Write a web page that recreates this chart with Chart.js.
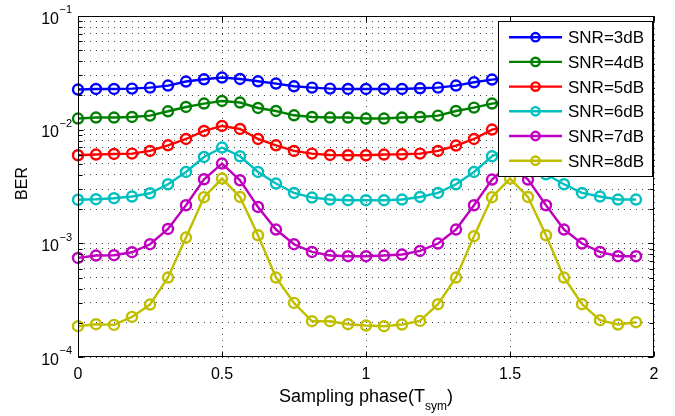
<!DOCTYPE html>
<html>
<head>
<meta charset="utf-8">
<script src="https://cdn.jsdelivr.net/npm/chart.js@4.4.1/dist/chart.umd.min.js"></script>
<style>
html, body { margin: 0; padding: 0; background: #fff; }
#wrap { width: 675px; height: 416px; position: relative; }
</style>
</head>
<body>
<div id="wrap"><canvas id="berChart"></canvas></div>
<script>
// sampling phase, in symbol periods
const phase = [0, 0.0625, 0.125, 0.1875, 0.25, 0.3125, 0.375, 0.4375,
               0.5, 0.5625, 0.625, 0.6875, 0.75, 0.8125, 0.875, 0.9375,
               1, 1.0625, 1.125, 1.1875, 1.25, 1.3125, 1.375, 1.4375,
               1.5, 1.5625, 1.625, 1.6875, 1.75, 1.8125, 1.875, 1.9375];

const ber3dB = [0.02254, 0.0228, 0.0228, 0.02298, 0.02345, 0.02443, 0.0265, 0.02776,
                0.02873, 0.02793, 0.02665, 0.02544, 0.02408, 0.02345, 0.02298, 0.0228,
                0.0228, 0.0228, 0.0228, 0.02312, 0.02345, 0.02443, 0.02611, 0.02759,
                0.02873, 0.02793, 0.02665, 0.02544, 0.02408, 0.02345, 0.02298, 0.0228];
const ber4dB = [0.01252, 0.01278, 0.01278, 0.01294, 0.0133, 0.01451, 0.01584, 0.01697,
                0.01789, 0.01732, 0.01552, 0.0146, 0.01338, 0.01294, 0.01278, 0.01278,
                0.01252, 0.01252, 0.01278, 0.01294, 0.0133, 0.0146, 0.01564, 0.01697,
                0.01789, 0.01732, 0.01552, 0.0146, 0.01338, 0.01294, 0.01278, 0.01278];
const ber5dB = [0.005955, 0.00604, 0.00611, 0.00616, 0.0065, 0.00729, 0.00828, 0.00974,
                0.01078, 0.01014, 0.00828, 0.00729, 0.0065, 0.00616, 0.00599, 0.005955,
                0.005955, 0.00604, 0.00607, 0.00616, 0.0065, 0.00725, 0.00828, 0.01002,
                0.01078, 0.01014, 0.00828, 0.00729, 0.0065, 0.00616, 0.00599, 0.005955];
const ber6dB = [0.002418, 0.002443, 0.002493, 0.00258, 0.002758, 0.00331, 0.004246, 0.005752,
                0.006961, 0.005834, 0.004246, 0.003357, 0.002775, 0.002528, 0.002428, 0.002394,
                0.002394, 0.002394, 0.002428, 0.002559, 0.002775, 0.00331, 0.004246, 0.005834,
                0.006961, 0.005834, 0.004053, 0.00331, 0.002775, 0.00258, 0.002428, 0.002428];
const ber7dB = [0.000744, 0.000781, 0.000786, 0.000835, 0.000982, 0.001338, 0.002163, 0.003663,
                0.005033, 0.003589, 0.00209, 0.001322, 0.000982, 0.00084, 0.000781, 0.00077,
                0.00077, 0.000781, 0.000797, 0.000857, 0.000996, 0.001322, 0.002163, 0.003639,
                0.005033, 0.003639, 0.002163, 0.001322, 0.000996, 0.00084, 0.00077, 0.00077];
const ber8dB = [0.0001866, 0.0001943, 0.0001916, 0.0002253, 0.0002894, 0.0005003, 0.001125, 0.002544,
                0.003715, 0.002559, 0.001178, 0.0005003, 0.0002991, 0.0002064, 0.0002064, 0.0001943,
                0.0001892, 0.0001866, 0.0001931, 0.0002077, 0.0002913, 0.0005003, 0.001155, 0.002544,
                0.003715, 0.002559, 0.001178, 0.0005003, 0.0002913, 0.0002107, 0.0001931, 0.0002023];

const seriesNames = ['SNR=3dB', 'SNR=4dB', 'SNR=5dB', 'SNR=6dB', 'SNR=7dB', 'SNR=8dB'];
const seriesData = [ber3dB, ber4dB, ber5dB, ber6dB, ber7dB, ber8dB];
const seriesColors = ['#0000ff', '#008000', '#ff0000', '#00bfbf', '#bf00bf', '#bfbf00'];

const xTicks = [0, 0.5, 1, 1.5, 2];
const xTickLabels = ['0', '0.5', '1', '1.5', '2'];
const yDecades = [-4, -3, -2, -1];

const FONT = "'Liberation Sans', Arial, Helvetica, sans-serif";

function isDecade(v) {
    const l = Math.log10(v);
    return Math.abs(l - Math.round(l)) < 1e-9;
}

// box, inward ticks, tick labels, axis titles and the legend, drawn old-school plot style
const plotFrame = {
    id: 'plotFrame',
    afterDatasetsDraw(chart) {
        const { ctx, chartArea: a, scales: { x, y } } = chart;
        const L = Math.round(a.left) + 0.5, R = Math.round(a.right) - 0.5;
        const T = Math.round(a.top) + 0.5, B = Math.round(a.bottom) - 0.5;
        ctx.save();

        // frame
        ctx.strokeStyle = '#000';
        ctx.lineWidth = 1;
        ctx.strokeRect(L, T, R - L, B - T);

        // tick marks pointing inwards on all four sides
        ctx.beginPath();
        xTicks.forEach(v => {
            const px = Math.round(x.getPixelForValue(v)) + 0.5;
            ctx.moveTo(px, B); ctx.lineTo(px, B - 5);
            ctx.moveTo(px, T); ctx.lineTo(px, T + 5);
        });
        y.ticks.forEach(t => {
            const py = Math.round(y.getPixelForValue(t.value)) + 0.5;
            const len = isDecade(t.value) ? 5 : 4;
            ctx.moveTo(L, py); ctx.lineTo(L + len, py);
            ctx.moveTo(R, py); ctx.lineTo(R - len, py);
        });
        ctx.stroke();

        ctx.fillStyle = '#000';
        ctx.textBaseline = 'alphabetic';

        // x tick labels
        ctx.font = '16px ' + FONT;
        ctx.textAlign = 'center';
        xTicks.forEach((v, i) => {
            ctx.fillText(xTickLabels[i], x.getPixelForValue(v), a.bottom + 22);
        });

        // y tick labels as 10 with a raised exponent
        ctx.textAlign = 'right';
        yDecades.forEach(k => {
            const py = y.getPixelForValue(Math.pow(10, k));
            const sup = '\u2212' + (-k);
            ctx.font = '11px ' + FONT;
            const supW = ctx.measureText(sup).width;
            const right = a.left - 6;
            ctx.fillText(sup, right, py - 2.6);
            ctx.font = '16px ' + FONT;
            ctx.fillText('10', right - supW - 0.5, py + 7.5);
        });

        // x axis title with subscript
        const main = 'Sampling phase(T', sub = 'sym', close = ')';
        ctx.font = '18px ' + FONT;
        const wMain = ctx.measureText(main).width, wClose = ctx.measureText(close).width;
        ctx.font = '12px ' + FONT;
        const wSub = ctx.measureText(sub).width;
        let tx = (a.left + a.right) / 2 - (wMain + wSub + wClose) / 2;
        ctx.textAlign = 'left';
        ctx.font = '18px ' + FONT;
        ctx.fillText(main, tx, a.bottom + 44.5);
        ctx.font = '12px ' + FONT;
        ctx.fillText(sub, tx + wMain, a.bottom + 53);
        ctx.font = '18px ' + FONT;
        ctx.fillText(close, tx + wMain + wSub, a.bottom + 44.5);

        // y axis title
        ctx.save();
        ctx.translate(27, (a.top + a.bottom) / 2 - 3);
        ctx.rotate(-Math.PI / 2);
        ctx.textAlign = 'center';
        ctx.font = '16px ' + FONT;
        ctx.fillText('BER', 0, 0);
        ctx.restore();

        // legend box in the upper right corner
        const lx = 498.5, ly = 21.5, lw = 154, lh = 155;
        ctx.fillStyle = '#fff';
        ctx.fillRect(lx, ly, lw, lh);
        ctx.strokeStyle = '#000';
        ctx.lineWidth = 1;
        ctx.strokeRect(lx, ly, lw, lh);
        seriesNames.forEach((name, i) => {
            const cy = 37.2 + i * 24.7;
            ctx.strokeStyle = seriesColors[i];
            ctx.lineWidth = 2.4;
            ctx.beginPath();
            ctx.moveTo(509, cy); ctx.lineTo(562, cy);
            ctx.stroke();
            ctx.beginPath();
            ctx.arc(535.5, cy, 4.2, 0, Math.PI * 2);
            ctx.stroke();
            ctx.fillStyle = '#000';
            ctx.font = '17px ' + FONT;
            ctx.textAlign = 'left';
            ctx.fillText(name, 568, cy + 6);
        });

        ctx.restore();
    }
};

const datasets = seriesData.map((vals, i) => ({
    label: seriesNames[i],
    data: phase.map((p, j) => ({ x: p, y: vals[j] })),
    borderColor: seriesColors[i],
    borderWidth: 2.4,
    pointRadius: 5,
    pointBorderWidth: 2.4,
    pointBorderColor: seriesColors[i],
    pointBackgroundColor: 'rgba(0,0,0,0)',
    tension: 0,
    clip: false,
    order: seriesData.length - i
}));

const ctx = document.getElementById('berChart').getContext('2d');
const berChart = new Chart(ctx, {
    type: 'line',
    data: { datasets: datasets },
    options: {
        responsive: true,
        maintainAspectRatio: false,
        animation: false,
        devicePixelRatio: 1,
        layout: { padding: { left: 78, right: 21, top: 16, bottom: 59 } },
        plugins: {
            legend: { display: false },
            tooltip: { enabled: false },
            title: { display: false }
        },
        scales: {
            x: {
                type: 'linear',
                min: 0,
                max: 2,
                afterBuildTicks: scale => { scale.ticks = xTicks.map(v => ({ value: v })); },
                ticks: { display: false },
                grid: { color: '#444', lineWidth: 1, drawTicks: false },
                border: { display: false, dash: [1, 5] }
            },
            y: {
                type: 'logarithmic',
                min: 1e-4,
                max: 1e-1,
                afterBuildTicks: scale => {
                    const t = [];
                    [-4, -3, -2].forEach(k => {
                        for (let m = 1; m <= 9; m++) t.push({ value: m * Math.pow(10, k) });
                    });
                    t.push({ value: 0.1 });
                    scale.ticks = t;
                },
                ticks: { display: false },
                grid: { color: '#444', lineWidth: 1, drawTicks: false },
                border: { display: false, dash: [1, 5] }
            }
        }
    },
    plugins: [plotFrame]
});
</script>
</body>
</html>
